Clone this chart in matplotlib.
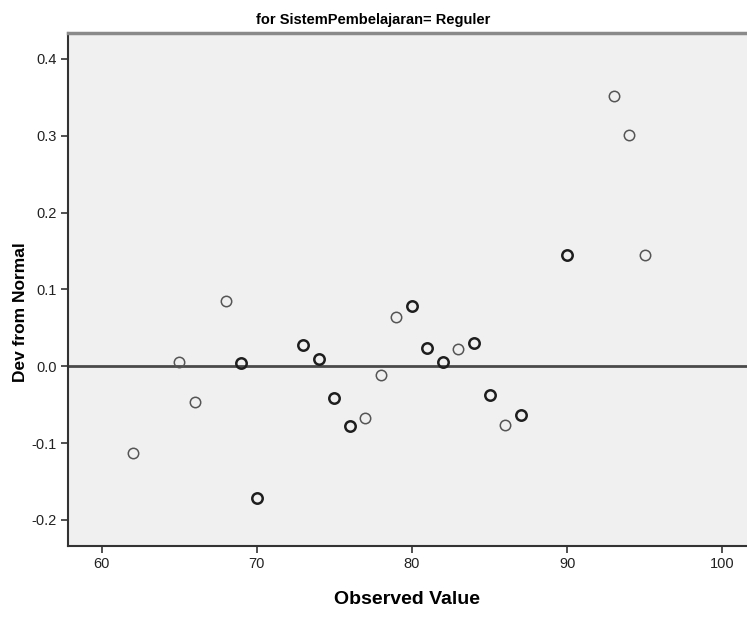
import numpy as np
import matplotlib
matplotlib.use('Agg')
import matplotlib.pyplot as plt

observed = [62, 65, 66, 68, 69, 70, 73, 74, 75, 76, 77, 78, 79, 80, 81, 82, 83, 84,
            85, 86, 87, 90, 93, 94, 95]
deviation = [-0.113, 0.005, -0.047, 0.085, 0.004, -0.172, 0.028, 0.010, -0.042, -0.078,
             -0.067, -0.012, 0.064, 0.078, 0.024, 0.005, 0.022, 0.030, -0.038, -0.076,
             -0.063, 0.145, 0.352, 0.301, 0.145]
# how many cases sit on the same point (drawn darker)
counts = [1, 1, 1, 1, 2, 2, 2, 2, 2, 2, 1, 1, 1, 2, 2, 2, 1, 2, 2, 1, 2, 2, 1, 1, 1]

xticks = [60, 70, 80, 90, 100]
yticks = [-0.2, -0.1, 0.0, 0.1, 0.2, 0.3, 0.4]

narrow = ['Liberation Sans Narrow', 'Liberation Sans', 'DejaVu Sans']

fig = plt.figure(figsize=(7.47, 6.19), dpi=100)
ax = fig.add_axes([0.0905, 0.118, 0.9095, 0.829])
ax.set_facecolor('#f0f0f0')

ax.axhline(0, color='#4a4a4a', lw=2.0, zorder=1)

obs = np.array(observed)
dev = np.array(deviation)
cnt = np.array(counts)
for c, lw, col in [(1, 1.1, '#555555'), (2, 1.8, '#1e1e1e')]:
    m = cnt == c
    ax.plot(obs[m], dev[m], 'o', ms=7.5, mfc='none', mec=col, mew=lw, zorder=3)

ax.set_xlim(57.8, 101.6)
ax.set_ylim(-0.234, 0.434)
ax.set_xticks(xticks)
ax.set_yticks(yticks)
ax.set_xticklabels([str(t) for t in xticks], family=narrow, fontsize=10.5, color='#222222')
ax.set_yticklabels(['%.1f' % t for t in yticks], family=narrow, fontsize=10.5, color='#222222')
ax.tick_params(length=5, width=1.2, color='#333333', pad=3)

for s in ['left', 'bottom']:
    ax.spines[s].set_color('#333333')
    ax.spines[s].set_linewidth(1.5)
ax.spines['right'].set_visible(False)
ax.spines['top'].set_color('#8a8a8a')
ax.spines['top'].set_linewidth(2.5)

ax.set_xlabel('Observed Value', family=narrow, fontweight='bold', fontsize=14, labelpad=14)
ax.set_ylabel('Dev from Normal', family=['Liberation Sans', 'DejaVu Sans'], fontweight='bold',
              fontsize=12.5)
ax.yaxis.set_label_coords(-0.058, 0.456)
fig.text(0.5, 0.967, 'for SistemPembelajaran= Reguler', ha='center', va='center',
         family=narrow, fontweight='bold', fontsize=10.5)

fig.savefig('out.png', dpi=100)
